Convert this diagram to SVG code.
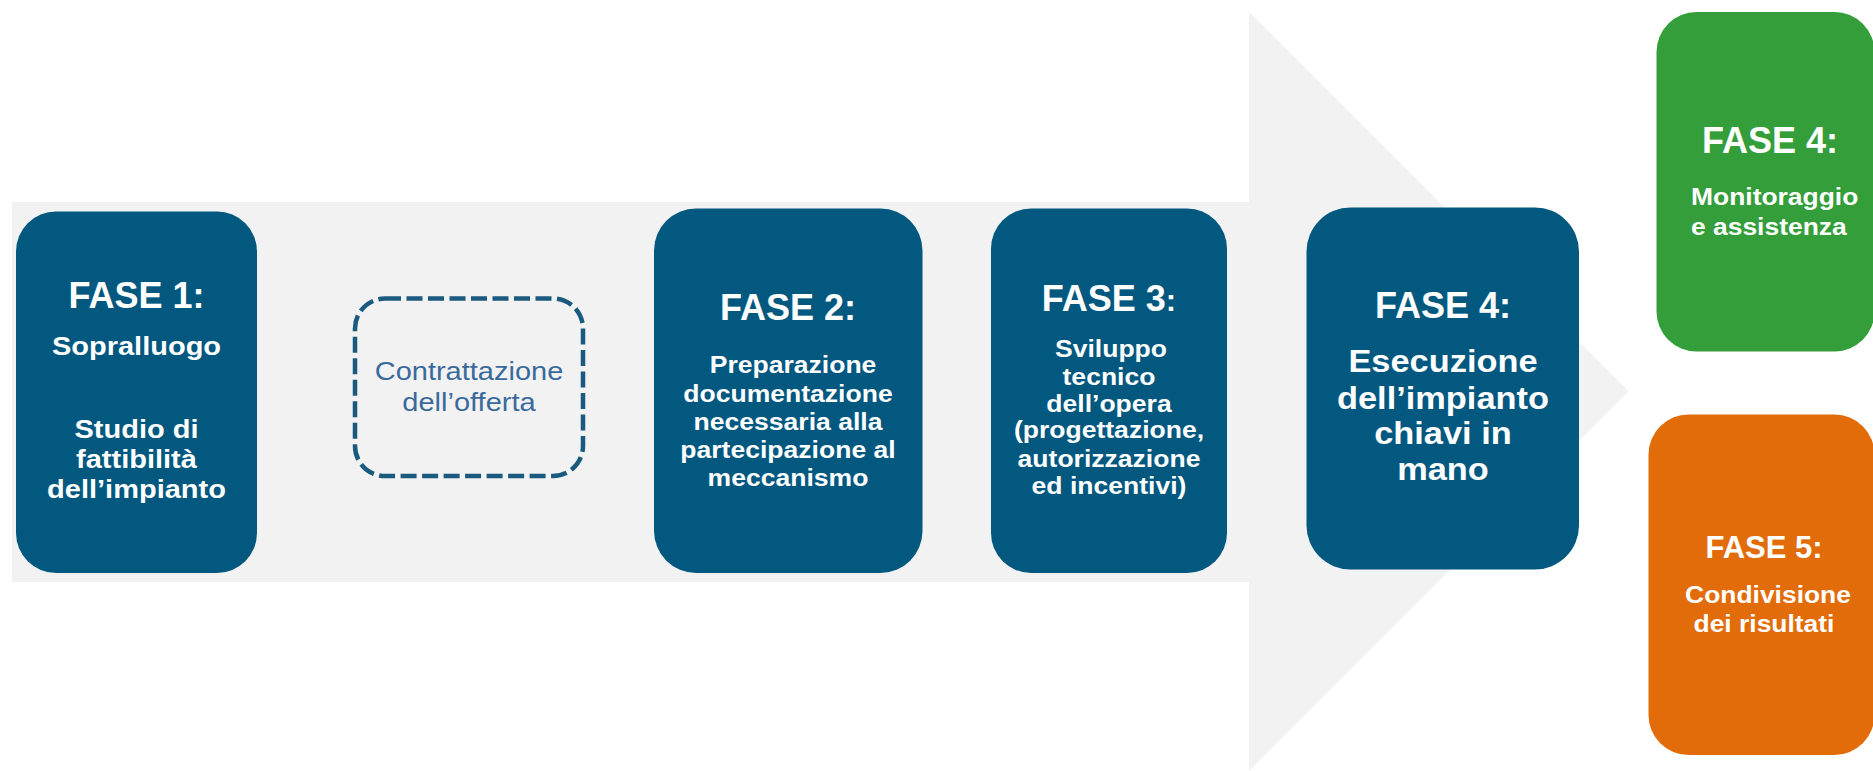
<svg xmlns="http://www.w3.org/2000/svg" width="1873" height="771" viewBox="0 0 1873 771">
<defs>
<style>
.box{fill:#02587F}
.t{font-family:"Liberation Sans",Arial,sans-serif;font-weight:bold;fill:#FFFFFF;text-anchor:middle}
.s{text-anchor:start}
.h{font-size:36px}
.b1{font-size:25.9px}
.b2{font-size:23.7px}
.b4{font-size:30.7px}
.bs{font-size:23.6px}
.dash{fill:none;stroke:#1A5A7E;stroke-width:4.5;stroke-dasharray:16 5.5}
.reg{font-family:"Liberation Sans",Arial,sans-serif;font-size:25.9px;fill:#3A6A9C;text-anchor:middle}
</style>
</defs>
<rect width="1873" height="771" fill="#FFFFFF"/>
<g id="arrow">
<polygon points="12,202 1249,202 1249,12 1628.5,391.5 1249,771 1249,582 12,582" fill="#F2F2F2"/>
</g>
<g id="connectors"></g>
<g id="fase1">
<rect class="box" x="16" y="211.5" width="241" height="361.5" rx="40" ry="40"/>
<text class="t h" x="136.5" y="308">FASE 1:</text>
<g transform="matrix(1.12 0 0 1 -16.38 0)">
<text class="t b1" x="136.5" y="355">Sopralluogo</text>
<text class="t b1" x="136.5" y="438">Studio di</text>
<text class="t b1" x="136.5" y="468">fattibilità</text>
<text class="t b1" x="136.5" y="498">dell’impianto</text>
</g>
</g>
<g id="contrattazione">
<rect class="dash" x="355" y="298.5" width="228" height="177.5" rx="30" ry="30"/>
<g transform="matrix(1.12 0 0 1 -56.28 0)">
<text class="reg" x="469" y="380.5">Contrattazione</text>
<text class="reg" x="469" y="411">dell’offerta</text>
</g>
</g>
<g id="fase2">
<rect class="box" x="654" y="208.5" width="268.5" height="364.5" rx="42" ry="42"/>
<text class="t h" x="788" y="320">FASE 2:</text>
<g transform="matrix(1.12 0 0 1 -94.56 0)">
<text class="t b2" x="792.5" y="373">Preparazione</text>
<text class="t b2" x="788" y="402">documentazione</text>
<text class="t b2" x="788" y="430">necessaria alla</text>
<text class="t b2" x="788" y="458">partecipazione al</text>
<text class="t b2" x="788" y="486">meccanismo</text>
</g>
</g>
<g id="fase3">
<rect class="box" x="991" y="208.5" width="236" height="364.5" rx="40" ry="40"/>
<text class="t h" x="1109" y="311">FASE 3<tspan font-size="31">:</tspan></text>
<g transform="matrix(1.12 0 0 1 -133.08 0)">
<text class="t b2" x="1110.8" y="357">Sviluppo</text>
<text class="t b2" x="1109" y="385">tecnico</text>
<text class="t b2" x="1109" y="412">dell’opera</text>
<text class="t b2" x="1109" y="438.5">(progettazione,</text>
<text class="t b2" x="1109" y="467">autorizzazione</text>
<text class="t b2" x="1109" y="494">ed incentivi)</text>
</g>
</g>
<g id="fase4">
<rect class="box" x="1306.5" y="207.5" width="272.5" height="362" rx="44" ry="44"/>
<text class="t h" x="1443" y="318">FASE 4:</text>
<g transform="matrix(1.12 0 0 1 -173.16 0)">
<text class="t b4" x="1443" y="372">Esecuzione</text>
<text class="t b4" x="1443" y="409">dell’impianto</text>
<text class="t b4" x="1443" y="444">chiavi in</text>
<text class="t b4" x="1443" y="480">mano</text>
</g>
</g>
<g id="fase4-monitoraggio">
<rect x="1656.5" y="12" width="218" height="339.5" rx="40" ry="40" fill="#339E3A"/>
<text class="t h" x="1770" y="153">FASE 4:</text>
<g transform="matrix(1.12 0 0 1 -202.92 0)">
<text class="t bs s" x="1691" y="205">Monitoraggio</text>
<text class="t bs s" x="1691" y="235">e assistenza</text>
</g>
</g>
<g id="fase5">
<rect x="1648.5" y="414.5" width="226" height="340.5" rx="40" ry="40" fill="#E36C0A"/>
<text class="t" x="1764" y="558" font-size="31">FASE 5:</text>
<g transform="matrix(1.12 0 0 1 -211.92 0)">
<text class="t bs" x="1767.8" y="603">Condivisione</text>
<text class="t bs" x="1764.2" y="632">dei risultati</text>
</g>
</g>
</svg>
